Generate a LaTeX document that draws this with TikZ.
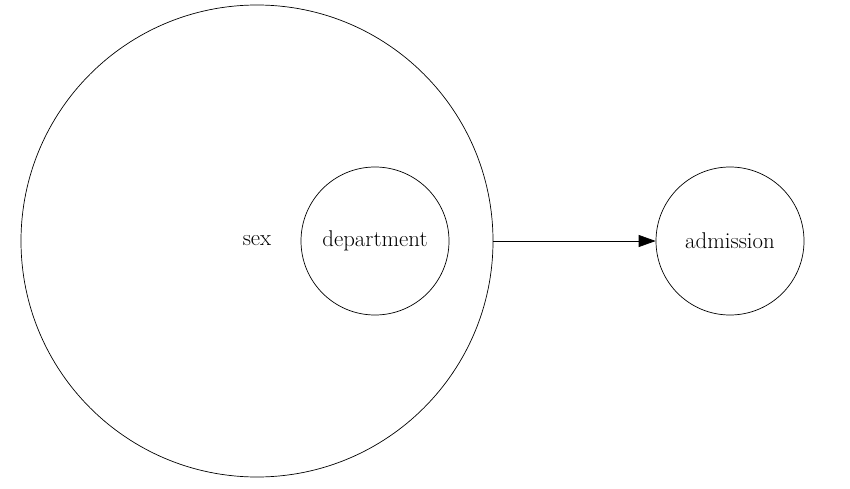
\documentclass[tikz,border=0pt]{standalone}
\usepackage{tikz}
\usetikzlibrary{arrows.meta}

\tikzset{
  var/.style={draw, circle, line width=0.7pt, inner sep=0pt, font=\fontsize{22.8}{26}\selectfont},
  link/.style={-{Triangle[length=17pt,width=12pt]}, line width=0.7pt}
}

\begin{document}
\begin{tikzpicture}[x=1pt,y=1pt]
        \useasboundingbox (0,0) rectangle (850,488);
        % Outer variable
        \node[var, minimum size=472pt] (sex) at (257,247) {sex};
        % Nested variable
        \node[var, minimum size=148pt] (department) at (375,247) {department};
        % Outcome
        \node[var, minimum size=148pt] (admission) at (730,247) {admission};
        \draw[link] (sex.east) -- (admission.west);
    \end{tikzpicture}
\end{document}
